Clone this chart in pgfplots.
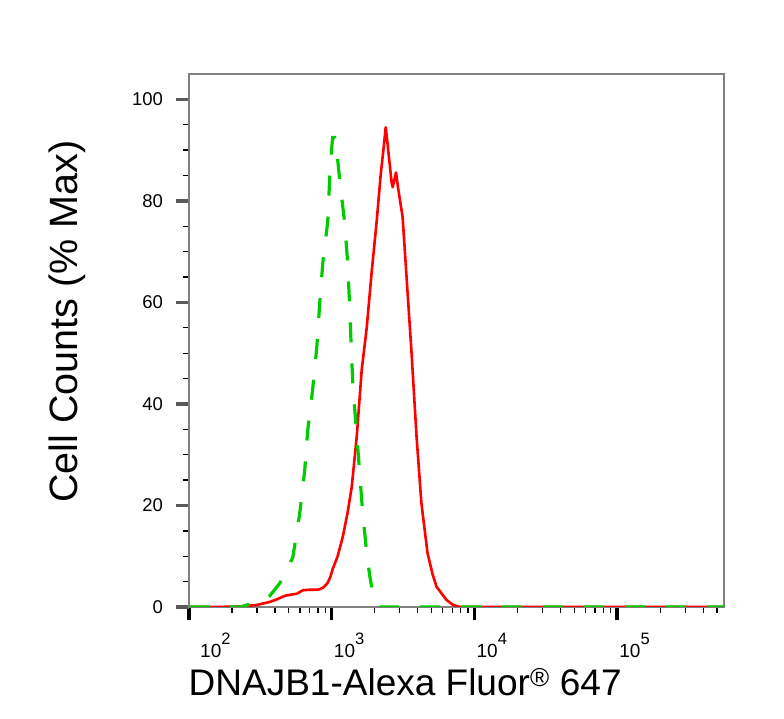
\documentclass[border=0pt]{standalone}
\usepackage{fontspec}
\setmainfont{Liberation Sans}
\usepackage{pgfplots}
\pgfplotsset{compat=1.18}
\newcommand{\ex}[1]{\hbox{\fontsize{19bp}{19bp}\selectfont 10\raisebox{13bp}{\fontsize{16.5bp}{16.5bp}\selectfont #1}}}
\definecolor{fgreen}{RGB}{0,204,0}
\definecolor{fred}{RGB}{255,0,0}
\begin{document}
\begin{tikzpicture}
\useasboundingbox (0,0) rectangle (784bp,719bp);
\begin{axis}[
  at={(189bp,112bp)}, anchor=south west,
  scale only axis, width=535bp, height=533bp,
  xmode=log, xmin=100, xmax=5.6e5, ymin=0, ymax=105,
  axis line style={line width=1.3bp, color=black!50},
  xtick pos=bottom, ytick pos=left,
  tick align=outside,
  major tick length=13bp, minor tick length=6bp,
  every tick/.style={line width=1.3bp, black},
  every major tick/.style={line width=3.5bp, black!85},
  every minor tick/.style={line width=1.3bp, black},
  every major y tick/.style={line width=3.5bp, black!65},
  every major x tick/.style={line width=3.5bp, black},
  ytick={0,20,40,60,80,100}, minor y tick num=3,
  yticklabel={\hbox{\fontsize{18.5bp}{18.5bp}\selectfont\pgfmathprintnumber[assume math mode=true]{\tick}}},
  xtick={100,1000,10000,100000},
  xticklabels={\hspace{9bp}\ex{2},\ex{3},\ex{4},\ex{5}},
  minor xtick={200,300,400,500,600,700,800,900,2000,3000,4000,5000,6000,7000,8000,9000,20000,30000,40000,50000,60000,70000,80000,90000,200000,300000,400000,500000},
  yticklabel style={anchor=east, inner sep=0pt, xshift=-13bp},
  xticklabel style={anchor=north west, inner sep=0pt, xshift=2bp, yshift=-13bp},
  xlabel={DNAJB1-Alexa Fluor\textsuperscript{®} 647},
  ylabel={Cell Counts (\% Max)},
  xlabel style={font=\fontsize{37bp}{37bp}\selectfont, at={(axis description cs:0.404,0)}, anchor=base, yshift=-88bp},
  ylabel style={font=\fontsize{39.5bp}{39.5bp}\selectfont, at={(axis description cs:-0.228,0.535)}, anchor=center, rotate=0},
]
\addplot[fred, line width=2.6bp, line join=round] coordinates {
(100,0) (150,0) (227,0.1) (299,0.4) (368,1.0) (412,1.5) (469,2.2) (534,2.5)
(569,2.6) (627,3.3) (700,3.4) (780,3.4) (824,3.5) (880,3.9) (938,4.8)
(980,6.0) (1016,7.5) (1100,10.0) (1194,13.8) (1290,18.5) (1380,23.6)
(1496,33.5) (1622,46.7) (1758,55) (1905,66) (2065,76) (2200,85) (2300,90)
(2388,94.5) (2466,91) (2630,83.5) (2674,82.7) (2820,85.6) (2910,82.7)
(3138,76.8) (3398,62) (3625,50) (3930,33.5) (4246,20.5) (4690,10.6)
(5082,6.5) (5420,4) (6368,1.4) (7000,0.5) (7850,0) (560000,0)
};
\addplot[fgreen, line width=3.2bp, dash pattern=on 20bp off 21bp] coordinates {
(100,0) (230,0) (254,0.4) (300,0.8) (368,2.2) (433,4.7) (534,9.8) (597,18.5)
(647,27) (679,34.8) (736,43) (785,51) (824,59.8) (865,67.7) (938,76)
(968,84.6) (1000,90.5) (1016,92.5) (1050,92.5) (1084,90) (1138,84)
(1233,75.6) (1294,67.7) (1336,59) (1370,51) (1410,43) (1490,34.8)
(1570,26.4) (1648,18.5) (1758,10.6) (1850,6) (1936,2.8) (2065,0.5)
(2200,0) (560000,0)
};
\end{axis}
\end{tikzpicture}
\end{document}
